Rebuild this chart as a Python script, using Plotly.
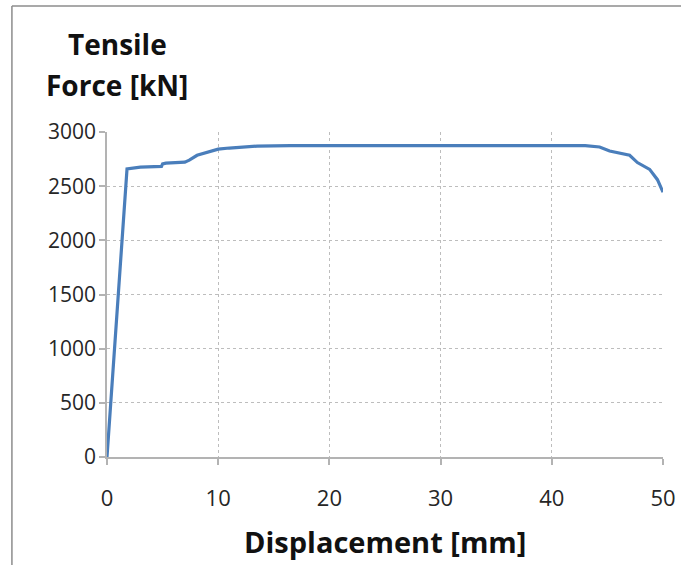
import plotly.graph_objects as go

# Load–displacement response of the tensile test
displacement_mm = [0.0, 1.8, 3.0, 4.9, 5.0, 5.3, 7.0, 7.4, 8.1, 9.0, 10.0, 11.0, 12.0,
                   13.5, 16.5, 20.0, 30.0, 40.0, 43.0, 44.3, 45.2, 46.0, 47.0,
                   47.7, 48.8, 49.5, 50.0]
force_kN = [0, 2660, 2675, 2682, 2705, 2712, 2722, 2740, 2785, 2815, 2842, 2852, 2860,
            2870, 2874, 2875, 2875, 2875, 2874, 2862, 2825, 2810, 2785,
            2718, 2655, 2560, 2445]

x_ticks = [0, 10, 20, 30, 40, 50]
y_ticks = [0, 500, 1000, 1500, 2000, 2500, 3000]

FONT = "Open Sans"
GRID = "#bdbdbd"
AXIS = "#b3b3b3"
TITLE_COLOR = "#111111"

fig = go.Figure()
fig.add_trace(go.Scatter(
    x=displacement_mm, y=force_kN, mode="lines",
    line=dict(color="#4a7ebb", width=3.2),
    showlegend=False,
))

fig.update_layout(
    width=681, height=565,
    margin=dict(l=107, r=18, t=132, b=108, autoexpand=False),
    paper_bgcolor="white", plot_bgcolor="white",
    font=dict(family=FONT, color="#262626", size=22),
    xaxis=dict(
        range=[0, 50], tickvals=x_ticks, ticktext=[str(v) for v in x_ticks],
        showgrid=True, gridcolor=GRID, griddash="3px,3px", gridwidth=1,
        showline=True, linecolor=AXIS, linewidth=1.5,
        ticks="outside", ticklen=6, tickcolor=AXIS, tickwidth=1.5,
        zeroline=False, tickfont=dict(size=22, family=FONT),
        ticklabelstandoff=15, automargin=False,
    ),
    yaxis=dict(
        range=[0, 3000], tickvals=y_ticks, ticktext=[str(v) for v in y_ticks],
        showgrid=True, gridcolor=GRID, griddash="3px,3px", gridwidth=1,
        showline=True, linecolor=AXIS, linewidth=1.5,
        ticks="outside", ticklen=6, tickcolor=AXIS, tickwidth=1.5,
        zeroline=False, tickfont=dict(size=21, family=FONT),
        ticklabelstandoff=-1, automargin=False,
    ),
    annotations=[
        dict(text="<b>Tensile</b>", xref="paper", yref="paper",
             x=0.018, y=1.271, xanchor="center", yanchor="middle",
             showarrow=False, font=dict(size=28, family=FONT, color=TITLE_COLOR)),
        dict(text="<b>Force [kN]</b>", xref="paper", yref="paper",
             x=0.018, y=1.145, xanchor="center", yanchor="middle",
             showarrow=False, font=dict(size=28, family=FONT, color=TITLE_COLOR)),
        dict(text="<b>Displacement [mm]</b>", xref="paper", yref="paper",
             x=0.5, y=-0.26, xanchor="center", yanchor="middle",
             showarrow=False, font=dict(size=29, family=FONT, color=TITLE_COLOR)),
    ],
    shapes=[
        # outer chart frame (left and top edges)
        dict(type="line", xref="paper", yref="paper",
             x0=-0.171, x1=-0.171, y0=-0.35, y1=1.388,
             line=dict(color="#8c8c8c", width=1.5)),
        dict(type="line", xref="paper", yref="paper",
             x0=-0.171, x1=1.05, y0=1.388, y1=1.388,
             line=dict(color="#8c8c8c", width=1.5)),
    ],
)

fig.write_html("out.html")
